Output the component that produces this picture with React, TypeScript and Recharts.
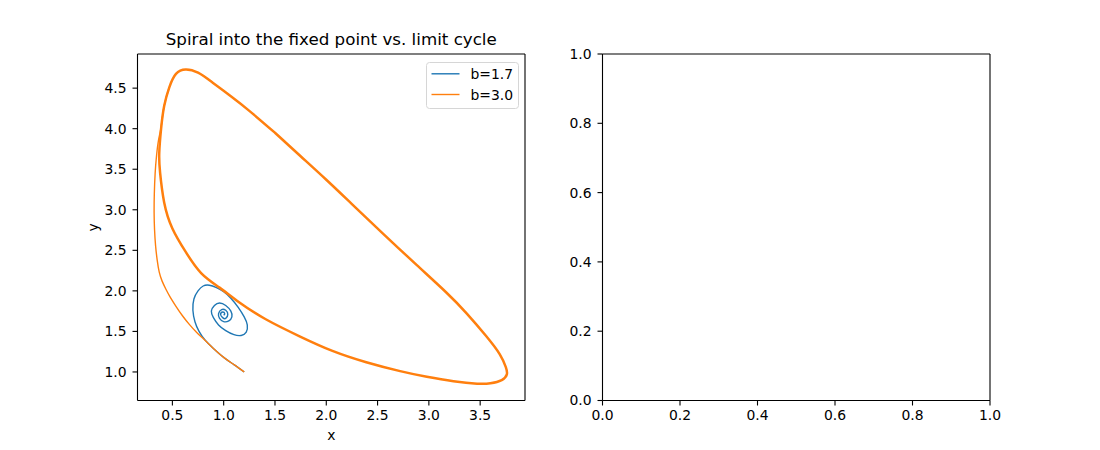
import React from 'react';
import { LineChart, Line, XAxis, YAxis, Legend } from 'recharts';

type Pt = { x: number; y: number };

// b=1.7: trajectory spiralling into the fixed point (1, 1.7)
const b17Path: Pt[] = [
  { x: 1.2, y: 1.0 }, { x: 1.1, y: 1.09 }, { x: 1.0, y: 1.18 }, { x: 0.9, y: 1.29 },
  { x: 0.82, y: 1.39 }, { x: 0.76, y: 1.5 }, { x: 0.72, y: 1.62 }, { x: 0.7, y: 1.76 },
  { x: 0.71, y: 1.9 }, { x: 0.75, y: 2.0 }, { x: 0.8, y: 2.06 }, { x: 0.86, y: 2.07 },
  { x: 0.93, y: 2.04 }, { x: 1.0, y: 1.99 }, { x: 1.07, y: 1.91 }, { x: 1.14, y: 1.8 },
  { x: 1.2, y: 1.68 }, { x: 1.23, y: 1.58 }, { x: 1.22, y: 1.49 }, { x: 1.17, y: 1.45 },
  { x: 1.1, y: 1.46 }, { x: 1.02, y: 1.51 }, { x: 0.95, y: 1.58 }, { x: 0.9, y: 1.67 },
  { x: 0.88, y: 1.75 }, { x: 0.91, y: 1.82 }, { x: 0.96, y: 1.85 }, { x: 1.02, y: 1.82 },
  { x: 1.07, y: 1.75 }, { x: 1.08, y: 1.68 }, { x: 1.05, y: 1.63 }, { x: 1.0, y: 1.62 },
  { x: 0.96, y: 1.66 }, { x: 0.95, y: 1.72 }, { x: 0.98, y: 1.77 }, { x: 1.02, y: 1.76 },
  { x: 1.04, y: 1.71 }, { x: 1.02, y: 1.66 }, { x: 0.99, y: 1.67 }, { x: 0.97, y: 1.71 },
  { x: 0.99, y: 1.74 }, { x: 1.01, y: 1.72 }, { x: 1.0, y: 1.7 },
];

// b=3.0: transient from the start point until it joins the limit cycle
const b30Transient: Pt[] = [
  { x: 1.2, y: 1.0 }, { x: 1.1, y: 1.09 }, { x: 1.0, y: 1.18 }, { x: 0.9, y: 1.29 },
  { x: 0.81, y: 1.4 }, { x: 0.735, y: 1.49 }, { x: 0.665, y: 1.587 }, { x: 0.6, y: 1.69 },
  { x: 0.535, y: 1.81 }, { x: 0.48, y: 1.92 }, { x: 0.437, y: 2.02 }, { x: 0.4, y: 2.12 },
  { x: 0.372, y: 2.23 }, { x: 0.352, y: 2.38 }, { x: 0.336, y: 2.56 }, { x: 0.326, y: 2.76 },
  { x: 0.322, y: 2.96 }, { x: 0.324, y: 3.2 }, { x: 0.332, y: 3.45 }, { x: 0.345, y: 3.66 },
  { x: 0.365, y: 3.86 }, { x: 0.39, y: 4.02 }, { x: 0.42, y: 4.28 }, { x: 0.47, y: 4.51 },
];

// b=3.0: the limit cycle (traced several times, so it looks heavier)
const b30Cycle: Pt[] = [
  { x: 1.5, y: 3.95 }, { x: 1.75, y: 3.66 }, { x: 2.0, y: 3.37 }, { x: 2.25, y: 3.07 },
  { x: 2.55, y: 2.71 }, { x: 2.88, y: 2.32 }, { x: 3.17, y: 1.98 }, { x: 3.37, y: 1.72 },
  { x: 3.56, y: 1.44 }, { x: 3.69, y: 1.22 }, { x: 3.75, y: 1.06 }, { x: 3.76, y: 0.97 },
  { x: 3.71, y: 0.9 }, { x: 3.6, y: 0.86 }, { x: 3.47, y: 0.855 }, { x: 3.24, y: 0.885 },
  { x: 2.98, y: 0.94 }, { x: 2.72, y: 1.01 }, { x: 2.39, y: 1.12 }, { x: 2.06, y: 1.26 },
  { x: 1.74, y: 1.44 }, { x: 1.41, y: 1.65 }, { x: 1.15, y: 1.86 }, { x: 0.96, y: 2.04 },
  { x: 0.78, y: 2.22 }, { x: 0.63, y: 2.48 }, { x: 0.5, y: 2.77 }, { x: 0.42, y: 3.09 },
  { x: 0.38, y: 3.46 }, { x: 0.372, y: 3.7 }, { x: 0.39, y: 4.0 }, { x: 0.42, y: 4.28 },
  { x: 0.47, y: 4.51 }, { x: 0.535, y: 4.675 }, { x: 0.63, y: 4.73 }, { x: 0.75, y: 4.69 },
  { x: 0.89, y: 4.57 }, { x: 1.07, y: 4.4 }, { x: 1.25, y: 4.22 }, { x: 1.5, y: 3.95 },
];

// corners of the empty right-hand axes
const emptyAxesBounds: Pt[] = [{ x: 0, y: 0 }, { x: 1, y: 1 }];

const seriesNames = ['b=1.7', 'b=3.0'];
const seriesColors = ['#1f77b4', '#ff7f0e'];

const leftXTicks = [0.5, 1.0, 1.5, 2.0, 2.5, 3.0, 3.5];
const leftYTicks = [1.0, 1.5, 2.0, 2.5, 3.0, 3.5, 4.0, 4.5];
const unitTicks = [0, 0.2, 0.4, 0.6, 0.8, 1.0];

const titleText = 'Spiral into the fixed point vs. limit cycle';

const FONT = '"DejaVu Sans", sans-serif';
const tickStyle = { fontSize: 13.9, fill: '#000', fontFamily: FONT };
const axisStroke = { stroke: '#000', strokeWidth: 1.1 };
const fmt = (v: number) => v.toFixed(1);

const LegendBox = () => (
  <svg width={93} height={47} style={{ display: 'block' }}>
    <rect x={0.5} y={0.5} width={92} height={46} rx={3} fill="rgba(255,255,255,0.8)" stroke="#d6d6d6" />
    {seriesNames.map((name, i) => (
      <g key={name}>
        <line x1={5.5} x2={33.5} y1={11.8 + i * 20.7} y2={11.8 + i * 20.7} stroke={seriesColors[i]} strokeWidth={1.4} />
        <text x={44.5} y={11.8 + i * 20.7} dominantBaseline="central" fontSize={13.9} fontFamily={FONT} fill="#000">
          {name}
        </text>
      </g>
    ))}
  </svg>
);

// top and right spines of a matplotlib-style box
const frameAxes = [
  <XAxis key="top" xAxisId="top" orientation="top" type="number" domain={[0, 1]} tick={false} tickLine={false} height={1} axisLine={axisStroke} />,
  <YAxis key="right" yAxisId="right" orientation="right" type="number" domain={[0, 1]} tick={false} tickLine={false} width={1} axisLine={axisStroke} />,
];

export default function App() {
  return (
    <div style={{ position: 'absolute', left: 0, top: 0, width: 1100, height: 450, background: '#fff' }}>
      <svg width={1100} height={60} style={{ position: 'absolute', left: 0, top: 0 }}>
        <text x={331.25} y={45} textAnchor="middle" fontSize={16.7} fontFamily={FONT} fill="#000">
          {titleText}
        </text>
      </svg>

      <div style={{ position: 'absolute', left: 0, top: 0 }}>
        <LineChart width={550} height={450} margin={{ top: 53, right: 24, left: 48.5, bottom: 4.5 }}>
          <XAxis
            dataKey="x"
            type="number"
            domain={[0.16, 3.937]}
            allowDataOverflow
            ticks={leftXTicks}
            interval={0}
            tickFormatter={fmt}
            tick={tickStyle}
            tickSize={5}
            tickMargin={5}
            axisLine={axisStroke}
            tickLine={axisStroke}
            height={45}
            label={{ value: 'x', position: 'insideBottom', offset: 5.5, fontSize: 13.9, fill: '#000', fontFamily: FONT }}
          />
          <YAxis
            type="number"
            domain={[0.648, 4.921]}
            allowDataOverflow
            ticks={leftYTicks}
            interval={0}
            tickFormatter={fmt}
            tick={tickStyle}
            tickSize={5}
            tickMargin={6}
            axisLine={axisStroke}
            tickLine={axisStroke}
            width={89}
            label={{ value: 'y', angle: -90, position: 'center', fontSize: 13.9, fill: '#000', fontFamily: FONT }}
          />
          {frameAxes}
          <Line
            data={b17Path}
            dataKey="y"
            name={seriesNames[0]}
            type="natural"
            stroke={seriesColors[0]}
            strokeWidth={1.4}
            dot={false}
            isAnimationActive={false}
          />
          <Line
            data={b30Transient}
            dataKey="y"
            name={seriesNames[1]}
            type="natural"
            stroke={seriesColors[1]}
            strokeWidth={1.4}
            dot={false}
            isAnimationActive={false}
          />
          <Line
            data={b30Cycle}
            dataKey="y"
            name="b=3.0 cycle"
            legendType="none"
            type="natural"
            stroke={seriesColors[1]}
            strokeWidth={2.5}
            dot={false}
            isAnimationActive={false}
          />
          <Legend
            layout="vertical"
            align="center"
            verticalAlign="middle"
            wrapperStyle={{ left: 425.5, top: 61.5, width: 93, height: 47 }}
            content={() => <LegendBox />}
          />
        </LineChart>
      </div>

      <div style={{ position: 'absolute', left: 550, top: 0 }}>
        <LineChart width={550} height={450} data={emptyAxesBounds} margin={{ top: 53, right: 109, left: 2.5, bottom: 4.5 }}>
          <XAxis
            dataKey="x"
            type="number"
            domain={[0, 1]}
            ticks={unitTicks}
            interval={0}
            tickFormatter={fmt}
            tick={tickStyle}
            tickSize={5}
            tickMargin={5}
            axisLine={axisStroke}
            tickLine={axisStroke}
            height={45}
          />
          <YAxis
            type="number"
            domain={[0, 1]}
            ticks={unitTicks}
            interval={0}
            tickFormatter={fmt}
            tick={tickStyle}
            tickSize={5}
            tickMargin={6}
            axisLine={axisStroke}
            tickLine={axisStroke}
            width={50}
          />
          {frameAxes}
          <Line dataKey="y" stroke="none" dot={false} legendType="none" isAnimationActive={false} />
        </LineChart>
      </div>
    </div>
  );
}
